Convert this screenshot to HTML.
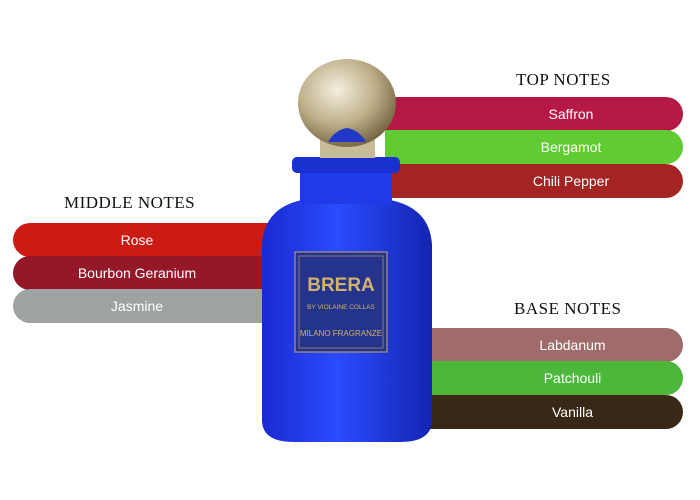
<!DOCTYPE html>
<html><head><style>
body{margin:0;width:700px;height:500px;background:#fff;position:relative;overflow:hidden;font-family:"Liberation Sans",sans-serif}
.b{position:absolute;height:34px;color:#fff;font-size:14px;line-height:34px;text-align:center}
.r{border-radius:0 17px 17px 0}
.l{border-radius:17px 0 0 17px}
.h{position:absolute;font-family:"Liberation Serif",serif;font-size:17px;color:#111;letter-spacing:.5px}
</style></head><body>
<div class="h" style="left:516px;top:70px">TOP NOTES</div>
<div class="h" style="left:64px;top:193px">MIDDLE NOTES</div>
<div class="h" style="left:514px;top:299px">BASE NOTES</div>
<div class="b r" style="left:385px;top:97px;width:298px;background:#b71945;padding-left:74px;box-sizing:border-box">Saffron</div>
<div class="b r" style="left:385px;top:130px;width:298px;background:#61cc32;padding-left:74px;box-sizing:border-box">Bergamot</div>
<div class="b r" style="left:385px;top:164px;width:298px;background:#a42424;padding-left:74px;box-sizing:border-box">Chili Pepper</div>
<div class="b l" style="left:13px;top:223px;width:260px;background:#cc1a14;padding-right:12px;box-sizing:border-box">Rose</div>
<div class="b l" style="left:13px;top:256px;width:260px;background:#951828;padding-right:12px;box-sizing:border-box">Bourbon Geranium</div>
<div class="b l" style="left:13px;top:289px;width:260px;background:#9ea2a2;padding-right:12px;box-sizing:border-box">Jasmine</div>
<div class="b r" style="left:420px;top:328px;width:263px;background:#a06b6b;padding-left:42px;box-sizing:border-box">Labdanum</div>
<div class="b r" style="left:420px;top:361px;width:263px;background:#4db73c;padding-left:42px;box-sizing:border-box">Patchouli</div>
<div class="b r" style="left:420px;top:395px;width:263px;background:#3a2816;padding-left:42px;box-sizing:border-box">Vanilla</div>
<svg style="position:absolute;left:0;top:0" width="700" height="500">
<defs>
<radialGradient id="g" cx=".4" cy=".35" r=".7"><stop offset="0" stop-color="#f4efe0"/><stop offset=".55" stop-color="#bfb08a"/><stop offset="1" stop-color="#6e5e3c"/></radialGradient>
<linearGradient id="bl" x1="0" x2="1"><stop offset="0" stop-color="#1a2ad0"/><stop offset=".45" stop-color="#2a4cff"/><stop offset="1" stop-color="#1324b0"/></linearGradient>
</defs>
<path d="M262 245 Q264 208 302 200 L390 200 Q430 208 432 245 L432 420 Q432 442 400 442 L294 442 Q262 442 262 420 Z" fill="url(#bl)"/>
<rect x="300" y="170" width="92" height="34" fill="#1f3ae6"/>
<rect x="292" y="157" width="108" height="16" rx="5" fill="#1a30d0"/>
<rect x="320" y="140" width="55" height="18" fill="#c8bb98"/>
<ellipse cx="347" cy="103" rx="49" ry="44" fill="url(#g)"/>
<path d="M328 142 Q335 130 347 128 Q359 130 366 142 Z" fill="#2238c8"/>
<rect x="295" y="252" width="92" height="100" fill="#24348c" stroke="#c9a86a" stroke-width="1"/>
<rect x="299" y="256" width="84" height="92" fill="none" stroke="#c9a86a" stroke-width=".6"/>
<text x="341" y="291" fill="#d4b06e" font-size="19" text-anchor="middle" font-family="Liberation Sans Narrow, Liberation Sans" font-weight="bold">BRERA</text>
<text x="341" y="309" fill="#d4b06e" font-size="6.5" text-anchor="middle" font-family="Liberation Sans">BY VIOLAINE COLLAS</text>
<text x="341" y="336" fill="#d4b06e" font-size="8" text-anchor="middle" font-family="Liberation Sans">MILANO FRAGRANZE</text>
</svg>
</body></html>
